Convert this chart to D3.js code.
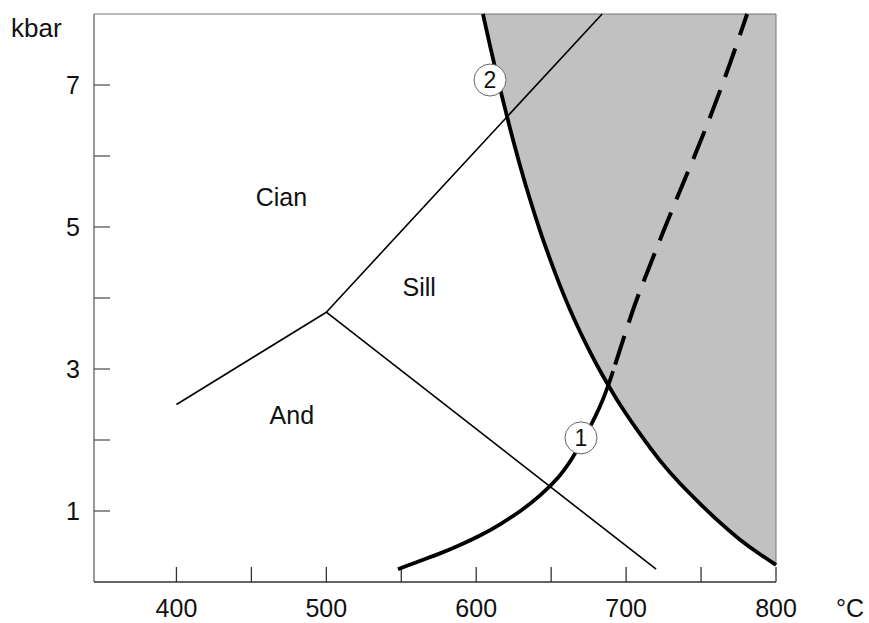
<!DOCTYPE html>
<html>
<head>
<meta charset="utf-8">
<script src="https://cdn.jsdelivr.net/npm/d3@7"></script>
<style>
  body { margin: 0; background: #fff; }
  svg text { font-family: Arial, "Liberation Sans", sans-serif; fill: #111; }
</style>
</head>
<body>
<div id="chart"></div>
<script>
// axis ticks
var xTicks = [400, 450, 500, 550, 600, 650, 700, 750, 800];
var xLabels = [400, 500, 600, 700, 800];
var yTicks = [1, 2, 3, 4, 5, 6, 7];
var yLabels = [1, 3, 5, 7];

// aluminosilicate reactions (T in °C, P in kbar)
var andKy = [[400, 2.5], [500, 3.8]];
var kySil = [[500, 3.8], [684, 8.0]];
var andSil = [[500, 3.8], [720, 0.18]];

// curve 1 (solid part, then dashed continuation)
var curve1Solid = [[547.8, 0.18], [562.5, 0.30], [575.9, 0.40], [589.2, 0.52], [602.5, 0.65], [615.9, 0.81],
                   [629.2, 0.99], [642.6, 1.21], [655.9, 1.49], [662.6, 1.69], [669.3, 1.93], [675.9, 2.18],
                   [682.6, 2.46], [688.0, 2.76], [691.3, 2.97]];
var curve1Dashed = [[691.3, 2.97], [698.0, 3.41], [706.0, 3.93], [713.3, 4.32], [724.6, 4.93], [736.7, 5.55],
                    [747.3, 6.08], [758.0, 6.65], [769.4, 7.30], [780.7, 8.0]];

// curve 2 (limit of the shaded field)
var curve2 = [[604.5, 8.0], [609.2, 7.55], [615.9, 6.94], [622.6, 6.38], [629.2, 5.86], [635.9, 5.38],
              [642.6, 4.94], [649.3, 4.54], [655.9, 4.17], [662.6, 3.83], [669.3, 3.52], [675.9, 3.24],
              [682.6, 2.97], [689.3, 2.73], [696.0, 2.49], [709.3, 2.08], [722.6, 1.70], [736.0, 1.38],
              [749.4, 1.10], [762.7, 0.83], [776.0, 0.59], [789.3, 0.39], [800, 0.24]];

var fieldNames = ["Cian", "Sill", "And"];
var fieldT = [470, 562, 477];
var fieldP = [5.42, 4.15, 2.35];

var markerNames = ["1", "2"];
var markerT = [669.9, 609.2];
var markerP = [2.03, 7.07];

var width = 869, height = 623;
var margin = {top: 14, right: 93, bottom: 41, left: 94};

var svg = d3.select("#chart").append("svg")
    .attr("width", width)
    .attr("height", height);

var x = d3.scaleLinear().domain([345, 800]).range([margin.left, width - margin.right]);
var y = d3.scaleLinear().domain([0, 8]).range([height - margin.bottom, margin.top]);

var line = d3.line().x(function (d) { return x(d[0]); }).y(function (d) { return y(d[1]); });
var smooth = d3.line().curve(d3.curveBasis)
    .x(function (d) { return x(d[0]); }).y(function (d) { return y(d[1]); });

// shaded field right of curve 2
svg.append("path")
    .attr("d", smooth(curve2) + "L" + x(800) + "," + y(8) + "Z")
    .style("fill", "#c1c1c1")
    .style("stroke", "none");

// frame
svg.append("line")
    .attr("x1", x(345)).attr("x2", x(800)).attr("y1", y(8)).attr("y2", y(8))
    .style("stroke", "#777").style("stroke-width", 1.2);
svg.append("line")
    .attr("x1", x(345)).attr("x2", x(345)).attr("y1", y(8)).attr("y2", y(0))
    .style("stroke", "#777").style("stroke-width", 1.5);
svg.append("line")
    .attr("x1", x(800)).attr("x2", x(800)).attr("y1", y(8)).attr("y2", y(0.24))
    .style("stroke", "#777").style("stroke-width", 1);
svg.append("line")
    .attr("x1", x(345)).attr("x2", x(800)).attr("y1", y(0)).attr("y2", y(0))
    .style("stroke", "#333").style("stroke-width", 1.5);

// ticks
svg.selectAll(".xtick").data(xTicks).enter().append("line")
    .attr("class", "xtick")
    .attr("x1", function (d) { return x(d); }).attr("x2", function (d) { return x(d); })
    .attr("y1", y(0)).attr("y2", y(0) - 15)
    .style("stroke", "#333").style("stroke-width", 1.3);
svg.selectAll(".ytick").data(yTicks).enter().append("line")
    .attr("class", "ytick")
    .attr("x1", x(345)).attr("x2", x(345) + 16)
    .attr("y1", function (d) { return y(d); }).attr("y2", function (d) { return y(d); })
    .style("stroke", "#555").style("stroke-width", 1.3);

svg.selectAll(".xlab").data(xLabels).enter().append("text")
    .attr("class", "xlab")
    .attr("x", function (d) { return x(d); })
    .attr("y", 617)
    .attr("text-anchor", "middle")
    .style("font-size", "25px")
    .text(function (d) { return d; });
svg.selectAll(".ylab").data(yLabels).enter().append("text")
    .attr("class", "ylab")
    .attr("x", x(345) - 14)
    .attr("y", function (d) { return y(d); })
    .attr("dy", "0.36em")
    .attr("text-anchor", "end")
    .style("font-size", "25px")
    .text(function (d) { return d; });

svg.append("text").attr("x", 11).attr("y", 37).style("font-size", "26px").text("kbar");
svg.append("text").attr("x", 836).attr("y", 617).style("font-size", "25px").text("°C");

// reaction lines
[andKy, kySil, andSil].forEach(function (seg) {
    svg.append("path").attr("d", line(seg))
        .style("fill", "none").style("stroke", "#000").style("stroke-width", 1.6);
});

svg.append("path").attr("d", smooth(curve2))
    .style("fill", "none").style("stroke", "#000").style("stroke-width", 3.8);
svg.append("path").attr("d", smooth(curve1Solid))
    .style("fill", "none").style("stroke", "#000").style("stroke-width", 3.8);
svg.append("path").attr("d", smooth(curve1Dashed))
    .style("fill", "none").style("stroke", "#000").style("stroke-width", 4)
    .style("stroke-dasharray", "30,14")
    .style("stroke-dashoffset", 37);

// field names
fieldNames.forEach(function (name, i) {
    svg.append("text")
        .attr("x", x(fieldT[i])).attr("y", y(fieldP[i]))
        .attr("dy", "0.36em")
        .attr("text-anchor", "middle")
        .style("font-size", "25px")
        .text(name);
});

// numbered markers
markerNames.forEach(function (name, i) {
    svg.append("circle")
        .attr("cx", x(markerT[i])).attr("cy", y(markerP[i])).attr("r", 16)
        .style("fill", "#fff").style("stroke", "#666").style("stroke-width", 1);
    svg.append("text")
        .attr("x", x(markerT[i])).attr("y", y(markerP[i]))
        .attr("dy", "0.36em")
        .attr("text-anchor", "middle")
        .style("font-size", "23px")
        .text(name);
});
</script>
</body>
</html>
